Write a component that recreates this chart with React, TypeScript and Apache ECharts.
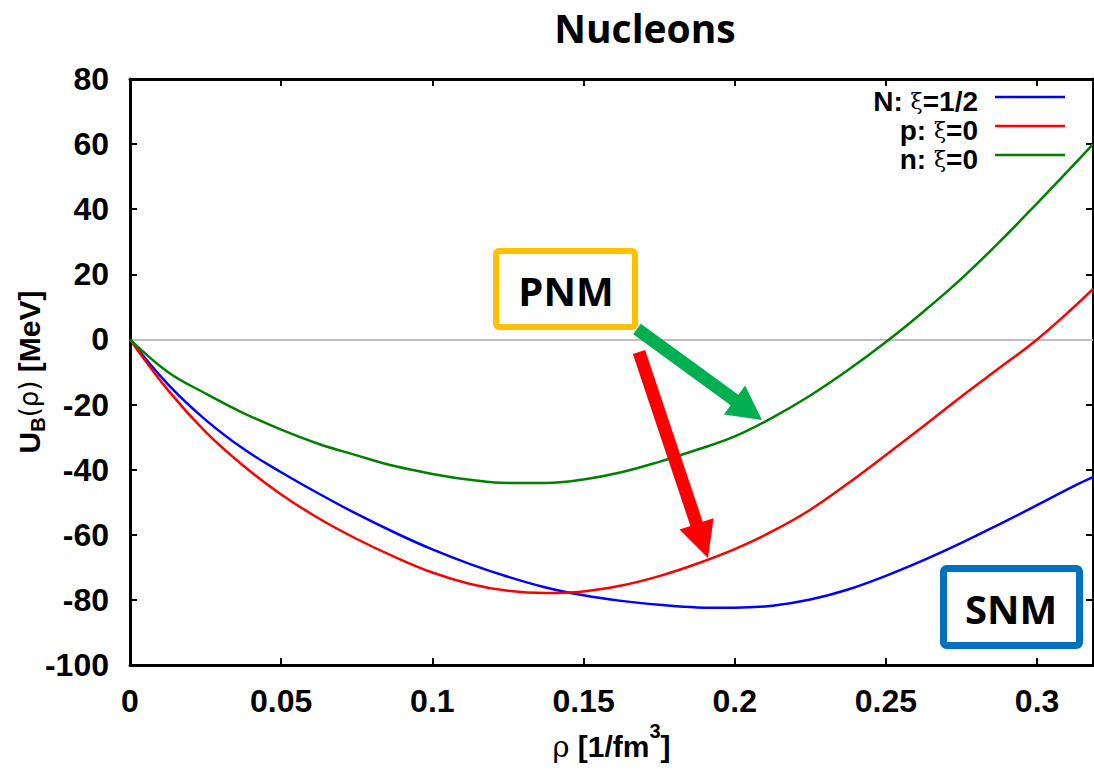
import React, { useEffect, useRef } from "react";
import * as echarts from "echarts";

// density rho [1/fm^3]
const rho = [
  0, 0.0125, 0.025, 0.0375, 0.05, 0.0625, 0.075, 0.0875, 0.1, 0.1125, 0.125, 0.1375, 0.15, 0.1625,
  0.175, 0.1875, 0.2, 0.2125, 0.225, 0.2375, 0.25, 0.2625, 0.275, 0.2875, 0.3, 0.3125, 0.3185,
];
// N: xi = 1/2 (symmetric nuclear matter)
const uNucleonSym = [
  0, -13.7, -24.7, -33.6, -40.8, -47.4, -53.6, -59.3, -64.5, -69.0, -72.9, -76.2, -78.6, -80.3,
  -81.5, -82.3, -82.4, -81.8, -79.9, -76.8, -72.6, -67.8, -62.5, -56.8, -50.9, -44.9, -42.3,
];
// p: xi = 0
const uProtonPNM = [
  0, -15.5, -28.4, -38.8, -47.6, -55.0, -61.3, -66.8, -71.6, -75.1, -77.2, -77.9, -77.4, -75.6,
  -72.7, -68.9, -64.4, -58.9, -52.3, -44.2, -35.5, -26.6, -17.5, -8.8, 0, 10.2, 15.5,
];
// n: xi = 0
const uNeutronPNM = [
  0, -10.0, -16.6, -22.6, -27.7, -32.1, -35.6, -38.9, -41.3, -43.1, -44.1, -44.1, -43.0, -40.8,
  -37.6, -33.9, -29.8, -24.0, -17.2, -9.4, -0.8, 8.6, 18.7, 29.9, 41.8, 54.0, 60.0,
];

const seriesNames = ["N: ξ=1/2", "p: ξ=0", "n: ξ=0"];
const seriesColors = ["#0000ff", "#ff0000", "#008000"];
const legendParts = [
  ["N: ", "ξ", "=1/2"],
  ["p: ", "ξ", "=0"],
  ["n: ", "ξ", "=0"],
];

const X_MIN = 0;
const X_MAX = 0.3185;
const X_STEP = 0.05;
const Y_MIN = -100;
const Y_MAX = 80;
const Y_STEP = 20;

const AXIS_FONT = "'Liberation Sans', Arial, sans-serif";
const BOX_FONT = "'Open Sans', 'Noto Sans', sans-serif";

function toPairs(xs: number[], ys: number[]) {
  return xs.map((x, i) => [x, ys[i]]);
}

function arrowPoints(x1: number, y1: number, x2: number, y2: number, sw: number, hw: number, hl: number) {
  const dx = x2 - x1;
  const dy = y2 - y1;
  const L = Math.hypot(dx, dy);
  const ux = dx / L;
  const uy = dy / L;
  const px = -uy;
  const py = ux;
  const bx = x2 - ux * hl;
  const by = y2 - uy * hl;
  return [
    [x1 + (px * sw) / 2, y1 + (py * sw) / 2],
    [bx + (px * sw) / 2, by + (py * sw) / 2],
    [bx + (px * hw) / 2, by + (py * hw) / 2],
    [x2, y2],
    [bx - (px * hw) / 2, by - (py * hw) / 2],
    [bx - (px * sw) / 2, by - (py * sw) / 2],
    [x1 - (px * sw) / 2, y1 - (py * sw) / 2],
  ];
}

export default function App() {
  const ref = useRef<HTMLDivElement>(null);

  useEffect(() => {
    document.body.style.margin = "0";
    if (!ref.current) return;
    const chart = echarts.init(ref.current, undefined, { renderer: "svg" });

    const axisLine = { show: true, onZero: false, lineStyle: { color: "#000", width: 3 } };
    const axisTick = { show: true, inside: true, length: 7, lineStyle: { color: "#000", width: 2 } };
    const labelStyle = { color: "#000", fontFamily: AXIS_FONT, fontWeight: "bold" as const, fontSize: 32 };

    const datasets = [uNucleonSym, uProtonPNM, uNeutronPNM];

    const legendGraphics: any[] = [];
    const legendY = [101, 130, 159];
    legendParts.forEach((p, i) => {
      legendGraphics.push({
        type: "text",
        x: 978,
        y: legendY[i],
        style: {
          text: `{a|${p[0]}}{g|${p[1]}}{a|${p[2]}}`,
          align: "right",
          verticalAlign: "middle",
          rich: {
            a: { fontFamily: AXIS_FONT, fontWeight: "bold", fontSize: 28, lineHeight: 26, fill: "#000" },
            g: { fontFamily: "'DejaVu Serif', serif", fontWeight: "normal", fontSize: 22, lineHeight: 26, fill: "#000" },
          },
        },
      });
      legendGraphics.push({
        type: "line",
        shape: { x1: 995, y1: legendY[i] - 4, x2: 1065, y2: legendY[i] - 4 },
        style: { stroke: seriesColors[i], lineWidth: 2.5 },
      });
    });

    const option: any = {
      animation: false,
      backgroundColor: "#ffffff",
      title: {
        text: "Nucleons",
        left: 640,
        top: 3,
        textAlign: "center",
        textStyle: { fontFamily: BOX_FONT, fontWeight: "bold", fontSize: 39, color: "#000" },
      },
      grid: { left: 130, right: 1, top: 79, bottom: 107, containLabel: false, outerBoundsMode: "none" },
      xAxis: [
        {
          type: "value",
          position: "bottom",
          min: X_MIN,
          max: X_MAX,
          interval: X_STEP,
          axisLine,
          axisTick,
          splitLine: { show: false },
          axisLabel: { ...labelStyle, margin: 20, showMaxLabel: false },
          name: "{r|ρ}{b| [1/fm}{sup|3}{b|]}",
          nameLocation: "middle",
          nameGap: 56,
          nameMoveOverlap: false,
          nameTextStyle: {
            rich: {
              r: { fontFamily: "'DejaVu Serif', serif", fontSize: 29, color: "#000", lineHeight: 40, verticalAlign: "bottom" },
              b: { fontFamily: AXIS_FONT, fontWeight: "bold", fontSize: 30, color: "#000", lineHeight: 40, verticalAlign: "bottom" },
              sup: { fontFamily: AXIS_FONT, fontWeight: "bold", fontSize: 20, color: "#000", lineHeight: 40, verticalAlign: "top" },
            },
          },
        },
        {
          type: "value",
          position: "top",
          min: X_MIN,
          max: X_MAX,
          interval: X_STEP,
          axisLine,
          axisTick,
          axisLabel: { show: false },
          splitLine: { show: false },
        },
      ],
      yAxis: [
        {
          type: "value",
          position: "left",
          min: Y_MIN,
          max: Y_MAX,
          interval: Y_STEP,
          axisLine,
          axisTick,
          splitLine: { show: false },
          axisLabel: { ...labelStyle, margin: 21 },
          name: "{b|U}{s|B}{r|(ρ)}{b| [MeV]}",
          nameLocation: "middle",
          nameRotate: 90,
          nameGap: 82,
          nameMoveOverlap: false,
          nameTextStyle: {
            rich: {
              b: { fontFamily: AXIS_FONT, fontWeight: "bold", fontSize: 30, color: "#000", lineHeight: 38, verticalAlign: "middle" },
              s: { fontFamily: AXIS_FONT, fontWeight: "bold", fontSize: 20, color: "#000", lineHeight: 38, verticalAlign: "bottom" },
              r: { fontFamily: "'DejaVu Sans', sans-serif", fontSize: 26, color: "#000", lineHeight: 38, verticalAlign: "middle" },
            },
          },
        },
        {
          type: "value",
          position: "right",
          min: Y_MIN,
          max: Y_MAX,
          interval: Y_STEP,
          axisLine,
          axisTick,
          axisLabel: { show: false },
          splitLine: { show: false },
        },
      ],
      series: datasets.map((d, i) => ({
        name: seriesNames[i],
        type: "line",
        xAxisIndex: 0,
        yAxisIndex: 0,
        data: toPairs(rho, d),
        smooth: 0.4,
        showSymbol: false,
        symbol: "none",
        lineStyle: { color: seriesColors[i], width: 2.5 },
        itemStyle: { color: seriesColors[i] },
        z: 3,
        ...(i === 0
          ? {
              markLine: {
                silent: true,
                symbol: "none",
                label: { show: false },
                lineStyle: { color: "#c0c0c0", width: 2, type: "solid" },
                data: [{ yAxis: 0 }],
                z: 1,
              },
            }
          : {}),
      })),
      graphic: [
        ...legendGraphics,
        {
          type: "rect",
          shape: { x: 496, y: 251, width: 139, height: 76, r: 3 },
          style: { fill: "#ffffff", stroke: "#FFC000", lineWidth: 6 },
          z: 10,
        },
        {
          type: "text",
          x: 566,
          y: 290,
          style: {
            text: "PNM",
            align: "center",
            verticalAlign: "middle",
            font: `bold 40px ${BOX_FONT}`,
            fill: "#000",
          },
          z: 11,
        },
        {
          type: "rect",
          shape: { x: 943.5, y: 568.5, width: 136, height: 77, r: 3 },
          style: { fill: "#ffffff", stroke: "#0070C0", lineWidth: 7 },
          z: 10,
        },
        {
          type: "text",
          x: 1011,
          y: 608,
          style: {
            text: "SNM",
            align: "center",
            verticalAlign: "middle",
            font: `bold 40px ${BOX_FONT}`,
            fill: "#000",
          },
          z: 11,
        },
        {
          type: "polygon",
          shape: { points: arrowPoints(637, 329, 762, 420, 13, 36, 34) },
          style: { fill: "#00B050" },
          z: 10,
        },
        {
          type: "polygon",
          shape: { points: arrowPoints(639, 352, 708, 558, 13, 36, 36) },
          style: { fill: "#FF0000" },
          z: 10,
        },
      ],
    };

    chart.setOption(option);
    return () => chart.dispose();
  }, []);

  return <div ref={ref} style={{ width: 1094, height: 772 }} />;
}
